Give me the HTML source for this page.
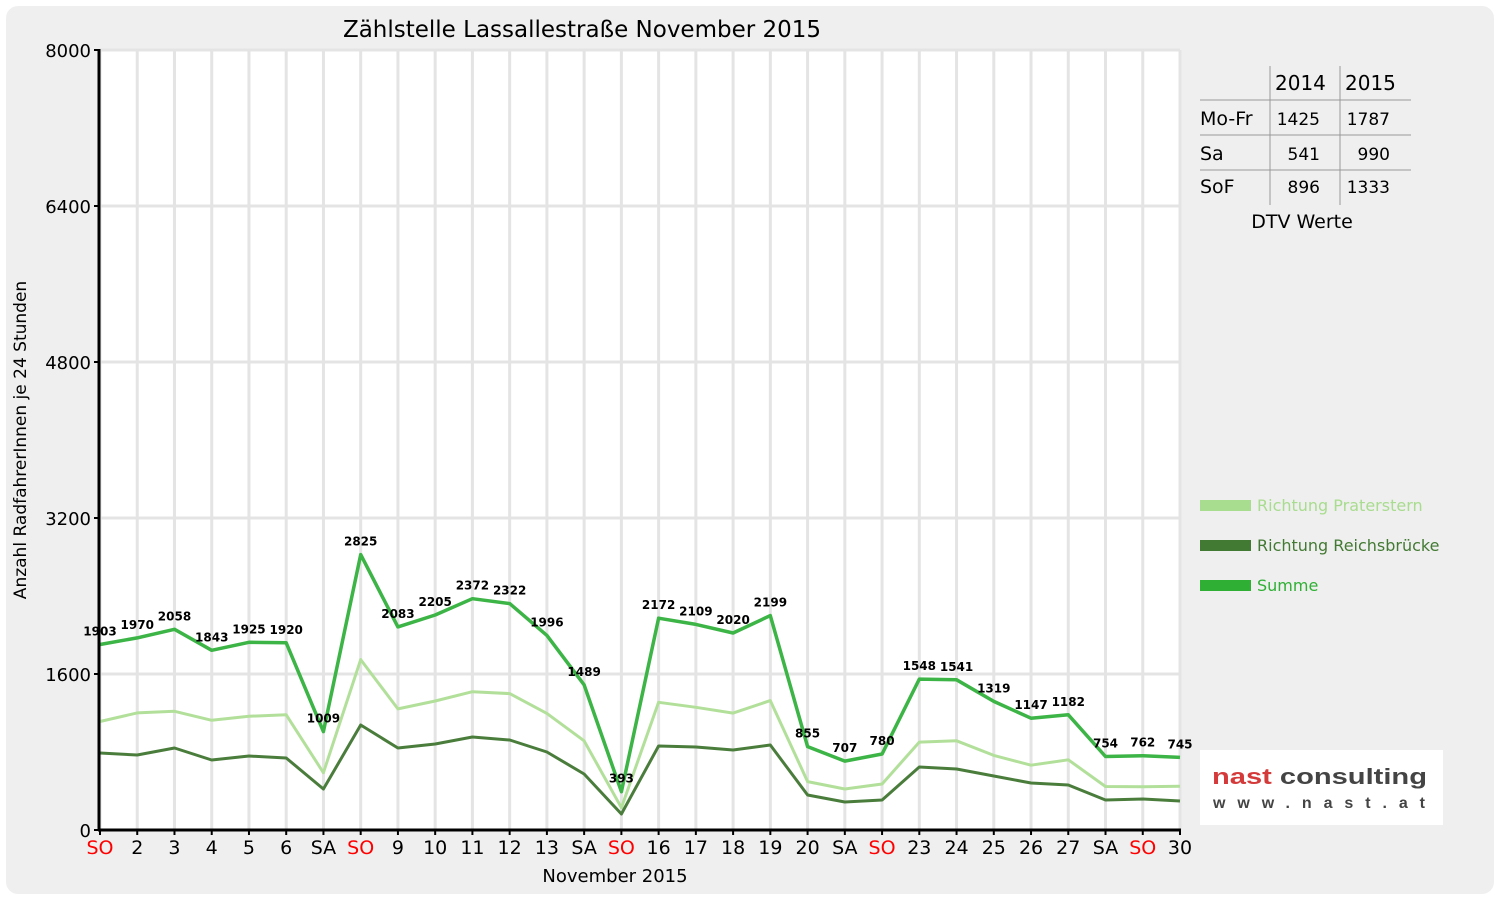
<!DOCTYPE html>
<html><head><meta charset="utf-8"><style>
body{margin:0;background:#fff;}
svg{display:block;font-family:"DejaVu Sans","Liberation Sans",sans-serif;}
</style></head><body>
<svg id="s" width="1500" height="900" xmlns="http://www.w3.org/2000/svg">
<rect x="6" y="6" width="1488" height="888" rx="12" fill="#efefef"/>
<rect x="100" y="50" width="1080" height="780" fill="#fff"/>
<g id="g"></g>
<text x="582" y="37" font-size="23" text-anchor="middle" fill="#000">Zählstelle Lassallestraße November 2015</text>
<text x="615" y="882" font-size="18" text-anchor="middle">November 2015</text>
<text transform="translate(26,440) rotate(-90)" font-size="17" text-anchor="middle">Anzahl RadfahrerInnen je 24 Stunden</text>
<g font-size="19" fill="#000">
<line x1="1270" y1="66" x2="1270" y2="205" stroke="#999"/>
<line x1="1340" y1="66" x2="1340" y2="205" stroke="#999"/>
<line x1="1200" y1="100" x2="1411" y2="100" stroke="#999"/>
<line x1="1200" y1="135" x2="1411" y2="135" stroke="#999"/>
<line x1="1200" y1="170" x2="1411" y2="170" stroke="#999"/>
<text x="1275" y="90" font-size="20">2014</text><text x="1345" y="90" font-size="20">2015</text>
<text x="1200" y="125" font-size="19">Mo-Fr</text><text x="1320" y="125" text-anchor="end" font-size="17">1425</text><text x="1390" y="125" text-anchor="end" font-size="17">1787</text>
<text x="1200" y="160" font-size="19">Sa</text><text x="1320" y="160" text-anchor="end" font-size="17">541</text><text x="1390" y="160" text-anchor="end" font-size="17">990</text>
<text x="1200" y="193" font-size="19">SoF</text><text x="1320" y="193" text-anchor="end" font-size="17">896</text><text x="1390" y="193" text-anchor="end" font-size="17">1333</text>
<text x="1302" y="228" font-size="19" text-anchor="middle">DTV Werte</text>
</g>
<rect x="1200" y="500" width="51" height="11" fill="#a8dc8e"/>
<text x="1257" y="511" font-size="16" fill="#a8dc8e">Richtung Praterstern</text>
<rect x="1200" y="540" width="51" height="11" fill="#437a33"/>
<text x="1257" y="551" font-size="16" fill="#437a33">Richtung Reichsbrücke</text>
<rect x="1200" y="580" width="51" height="11" fill="#2fb034"/>
<text x="1257" y="591" font-size="16" fill="#2fb034">Summe</text>
<rect x="1200" y="750" width="243" height="75" fill="#fff"/>
<text x="1212" y="784" font-size="22" font-weight="900" fill="#d43a3a" textLength="215" lengthAdjust="spacingAndGlyphs" font-family="Liberation Sans,sans-serif">nast <tspan fill="#444">consulting</tspan></text>
<text x="1213" y="808" font-size="16" font-weight="bold" fill="#444" textLength="212" lengthAdjust="spacing" font-family="Liberation Sans,sans-serif">www.nast.at</text>
</svg>
<script>
var sum=[1903,1970,2058,1843,1925,1920,1009,2825,2083,2205,2372,2322,1996,1489,393,2172,2109,2020,2199,855,707,780,1548,1541,1319,1147,1182,754,762,745];
var R=[790,769,841,718,759,738,421,1077,841,882,954,923,800,574,164,862,851,821,872,359,287,308,646,626,554,482,462,308,318,297];
var lab=["SO","2","3","4","5","6","SA","SO","9","10","11","12","13","SA","SO","16","17","18","19","20","SA","SO","23","24","25","26","27","SA","SO","30"];
var g=document.getElementById('g'),h='';
function X(i){return 100+i*1080/29;}function Y(v){return 830-v*0.0975;}
for(var i=0;i<30;i++){h+='<line x1="'+X(i)+'" y1="50" x2="'+X(i)+'" y2="830" stroke="#e4e4e4" stroke-width="3"/>';}
for(var t=1600;t<=8000;t+=1600){h+='<line x1="100" y1="'+Y(t)+'" x2="1180" y2="'+Y(t)+'" stroke="#e4e4e4" stroke-width="3"/>';}
function pl(arr,c,w){var p=arr.map(function(v,i){return X(i).toFixed(1)+','+Y(v).toFixed(1)}).join(' ');return '<polyline points="'+p+'" fill="none" stroke="'+c+'" stroke-width="'+w+'" stroke-linejoin="round"/>';}
var P=sum.map(function(v,i){return v-R[i];});
h+=pl(P,'#b2e09a',3)+pl(R,'#4a7d3c',3)+pl(sum,'#3cb446',3.5);
for(var i=0;i<30;i++){h+='<text x="'+X(i)+'" y="'+(Y(sum[i])-9)+'" font-size="12" font-weight="bold" text-anchor="middle">'+sum[i]+'</text>';
h+='<line x1="'+X(i)+'" y1="830" x2="'+X(i)+'" y2="835" stroke="#000" stroke-width="2"/>';
h+='<text x="'+X(i)+'" y="854" font-size="19" text-anchor="middle" fill="'+(lab[i]=="SO"?"#f00":"#000")+'">'+lab[i]+'</text>';}
for(var t=0;t<=8000;t+=1600){h+='<line x1="94" y1="'+Y(t)+'" x2="100" y2="'+Y(t)+'" stroke="#000" stroke-width="2"/><text x="91" y="'+(Y(t)+7)+'" font-size="18" text-anchor="end">'+t+'</text>';}
h+='<line x1="99" y1="49" x2="99" y2="831" stroke="#000" stroke-width="3"/><line x1="98" y1="830" x2="1181" y2="830" stroke="#000" stroke-width="3"/>';
g.innerHTML=h;
</script>
</body></html>
